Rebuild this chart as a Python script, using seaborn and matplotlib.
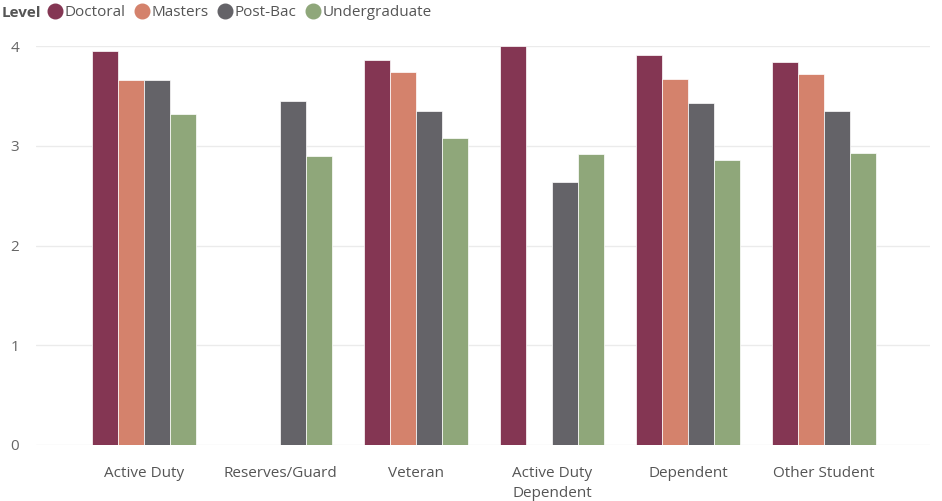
import numpy as np
import pandas as pd
import matplotlib
matplotlib.use("Agg")
import matplotlib.pyplot as plt
from matplotlib.lines import Line2D
import seaborn as sns

categories = ["Active Duty", "Reserves/Guard", "Veteran", "Active Duty\nDependent", "Dependent", "Other Student"]
levels = ["Doctoral", "Masters", "Post-Bac", "Undergraduate"]
doctoral = [3.95, np.nan, 3.86, 4.00, 3.91, 3.84]
masters = [3.66, np.nan, 3.74, np.nan, 3.67, 3.72]
post_bac = [3.66, 3.45, 3.35, 2.64, 3.43, 3.35]
undergrad = [3.32, 2.90, 3.08, 2.92, 2.86, 2.93]
colors = ["#843653", "#D4826C", "#646368", "#8FA77A"]

rows = []
for lvl, vals in zip(levels, [doctoral, masters, post_bac, undergrad]):
    for cat, v in zip(categories, vals):
        rows.append({"Category": cat, "Level": lvl, "Score": v})
df = pd.DataFrame(rows).dropna()

sns.set_style("white")
plt.rcParams["font.family"] = ["Open Sans", "DejaVu Sans"]

fig = plt.figure(figsize=(9.42, 5.01), dpi=100)
ax = fig.add_axes([36 / 942, 56 / 501, 894 / 942, 399 / 501])

sns.barplot(data=df, x="Category", y="Score", hue="Level", order=categories,
            hue_order=levels, palette=colors, saturation=1, width=0.77, ax=ax,
            edgecolor="white", linewidth=0.5, errorbar=None, legend=False)

ax.set_xlim(-0.794, 5.78)
ax.set_ylim(0, 4)
ax.set_yticks([0, 1, 2, 3, 4])
ax.yaxis.grid(True, color="#EBEBEB", linewidth=1)
ax.set_axisbelow(True)
for s in ax.spines.values():
    s.set_visible(False)
ax.set_xlabel("")
ax.set_ylabel("")
ax.tick_params(axis="y", length=0, pad=12, labelsize=11, labelcolor="#666666")
ax.tick_params(axis="x", length=0, pad=15, labelsize=11, labelcolor="#555555")
for t in ax.get_xticklabels():
    t.set_linespacing(1.45)

fig.text(2 / 942, 1 - 13 / 501, "Level", fontsize=11, fontweight="bold",
         color="#555555", va="center", ha="left")
handles = [Line2D([], [], marker="o", linestyle="", markersize=10.5,
                  markerfacecolor=c, markeredgecolor=c) for c in colors]
fig.legend(handles, levels, loc="center left", bbox_to_anchor=(47 / 942, 1 - 13 / 501),
           ncol=4, frameon=False, fontsize=11, handletextpad=0.15,
           columnspacing=0.55, handlelength=1.0, borderaxespad=0, borderpad=0,
           labelcolor="#555555")

fig.savefig("out.png", dpi=100)
